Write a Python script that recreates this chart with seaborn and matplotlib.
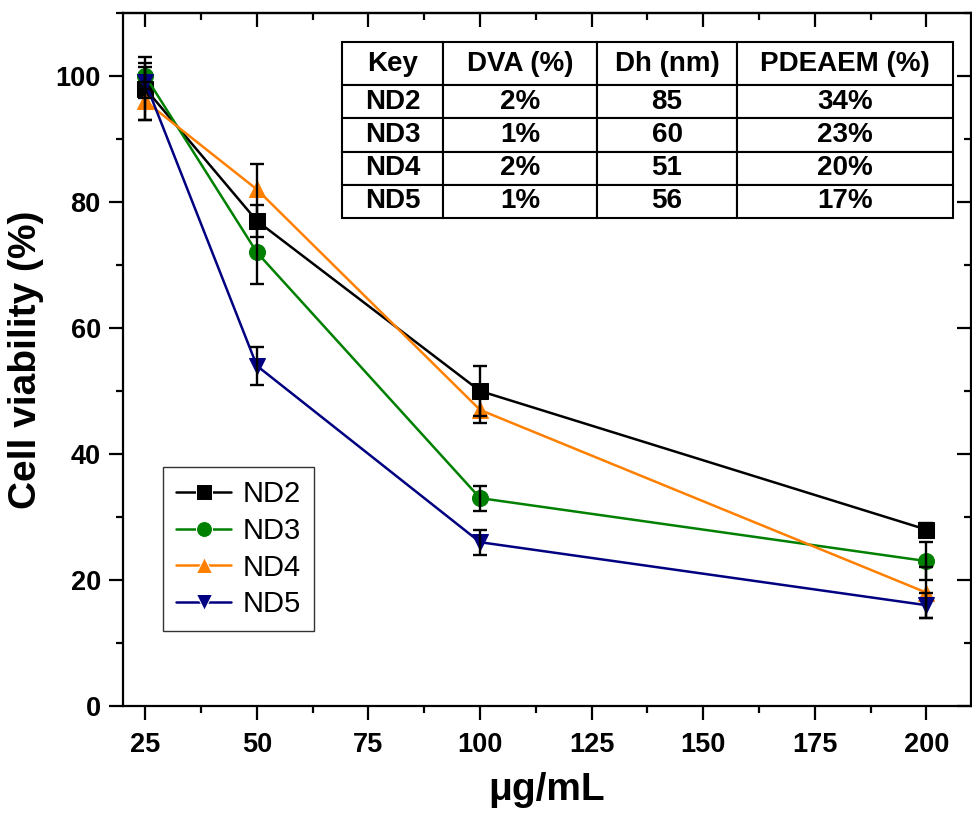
import numpy as np
import pandas as pd
import seaborn as sns
import matplotlib
matplotlib.use("Agg")
import matplotlib.pyplot as plt
from matplotlib.ticker import MultipleLocator

# ---- data ----
conc = [25, 50, 100, 200]
series = ["ND2", "ND3", "ND4", "ND5"]
nd2 = [98, 77, 50, 28]
nd3 = [100, 72, 33, 23]
nd4 = [96, 82, 47, 18]
nd5 = [99, 54, 26, 16]
nd2_err = [5, 2.5, 4, 1]
nd3_err = [2, 5, 2, 3]
nd4_err = [3, 4, 2, 4]
nd5_err = [2.5, 3, 2, 2]

table_cols = ["Key", "DVA (%)", "Dh (nm)", "PDEAEM (%)"]
table_dva = ["2%", "1%", "2%", "1%"]
table_dh = ["85", "60", "51", "56"]
table_pdeaem = ["34%", "23%", "20%", "17%"]

colors = {"ND2": "#000000", "ND3": "#008000", "ND4": "#FF8000", "ND5": "#000080"}
markers = {"ND2": "s", "ND3": "o", "ND4": "^", "ND5": "v"}

vals = {"ND2": nd2, "ND3": nd3, "ND4": nd4, "ND5": nd5}
errs = {"ND2": nd2_err, "ND3": nd3_err, "ND4": nd4_err, "ND5": nd5_err}
df = pd.DataFrame([
    {"conc": c, "viab": v, "err": e, "series": s}
    for s in series for c, v, e in zip(conc, vals[s], errs[s])
])

# ---- style ----
sns.set_style("ticks")
plt.rcParams["font.family"] = ["Liberation Sans", "DejaVu Sans"]
plt.rcParams["text.color"] = "black"
plt.rcParams["axes.labelcolor"] = "black"
plt.rcParams["xtick.color"] = "black"
plt.rcParams["ytick.color"] = "black"
plt.rcParams["xtick.labelcolor"] = "black"
plt.rcParams["ytick.labelcolor"] = "black"

fig = plt.figure(figsize=(9.72, 8.15), dpi=100)
ax = fig.add_axes([123/972, 1 - 706/815, (971-123)/972, (706-13)/815])

sns.lineplot(data=df, x="conc", y="viab", hue="series", style="series",
             hue_order=series, style_order=series,
             palette=colors, markers=markers, dashes=False,
             markersize=11.5, linewidth=1.8, ax=ax,
             errorbar=None, sort=False, zorder=3)
for line, s in zip(ax.lines[:4], series):
    line.set_markeredgecolor(colors[s])
    line.set_markerfacecolor(colors[s])

for s in series:
    d = df[df.series == s]
    ax.errorbar(d["conc"], d["viab"], yerr=d["err"], fmt="none",
                ecolor="black", elinewidth=1.7, capsize=5, capthick=1.7, zorder=4)

ax.set_xlim(20, 210)
ax.set_ylim(0, 110)
ax.xaxis.set_major_locator(MultipleLocator(25))
ax.xaxis.set_minor_locator(MultipleLocator(12.5))
ax.yaxis.set_minor_locator(MultipleLocator(10))
ax.set_yticks([0, 20, 40, 60, 80, 100])

for sp in ax.spines.values():
    sp.set_linewidth(1.6)
    sp.set_color("black")

ax.tick_params(axis="both", which="major", direction="out", length=10, width=1.6,
               labelsize=19.5, pad=6, color="black", labelcolor="black")
ax.tick_params(axis="both", which="minor", direction="out", length=5, width=1.6,
               color="black")
ax.tick_params(axis="x", which="major", pad=9)
for lab in ax.get_xticklabels() + ax.get_yticklabels():
    lab.set_fontweight("bold")
    lab.set_color("black")

# inward ticks on top and right
secx = ax.secondary_xaxis("top")
secx.xaxis.set_major_locator(MultipleLocator(25))
secx.xaxis.set_minor_locator(MultipleLocator(12.5))
secx.tick_params(which="major", direction="in", length=10, width=1.6, labeltop=False, color="black")
secx.tick_params(which="minor", direction="in", length=5, width=1.6, color="black")
secx.spines["top"].set_linewidth(1.6)
secy = ax.secondary_yaxis("right")
secy.yaxis.set_major_locator(MultipleLocator(20))
secy.yaxis.set_minor_locator(MultipleLocator(10))
secy.tick_params(which="major", direction="in", length=10, width=1.6, labelright=False, color="black")
secy.tick_params(which="minor", direction="in", length=5, width=1.6, color="black")

ax.set_xlabel("μg/mL", fontsize=28, fontweight="bold", labelpad=10, color="black")
ax.set_ylabel("Cell viability (%)", fontsize=28, fontweight="bold", labelpad=8, color="black")

# legend
handles, labels = ax.get_legend_handles_labels()
leg = ax.legend(handles, labels, loc="upper left", bbox_to_anchor=(0.047, 0.345),
                borderaxespad=0, fontsize=21, frameon=True, fancybox=False,
                edgecolor="black", handlelength=1.9, handletextpad=0.4,
                labelspacing=0.3, borderpad=0.45, labelcolor="black")
leg.get_frame().set_linewidth(1.0)

# table
cell_text = [[s, a, b, c] for s, a, b, c in zip(series, table_dva, table_dh, table_pdeaem)]
tbl = ax.table(cellText=cell_text, colLabels=table_cols, cellLoc="center",
               bbox=[(342-123)/848, (706-218)/693, (953-342)/848, (218-42)/693],
               colWidths=[101, 154, 140, 216], zorder=5)
tbl.auto_set_font_size(False)
for (r, c), cell in tbl.get_celld().items():
    cell.set_linewidth(1.5)
    cell.set_edgecolor("black")
    cell.get_text().set_fontsize(20)
    cell.get_text().set_fontweight("bold")
    cell.get_text().set_color("black")
    if r == 0:
        cell.set_height(cell.get_height() * 43 / 33)

fig.savefig("out.png", dpi=100)
